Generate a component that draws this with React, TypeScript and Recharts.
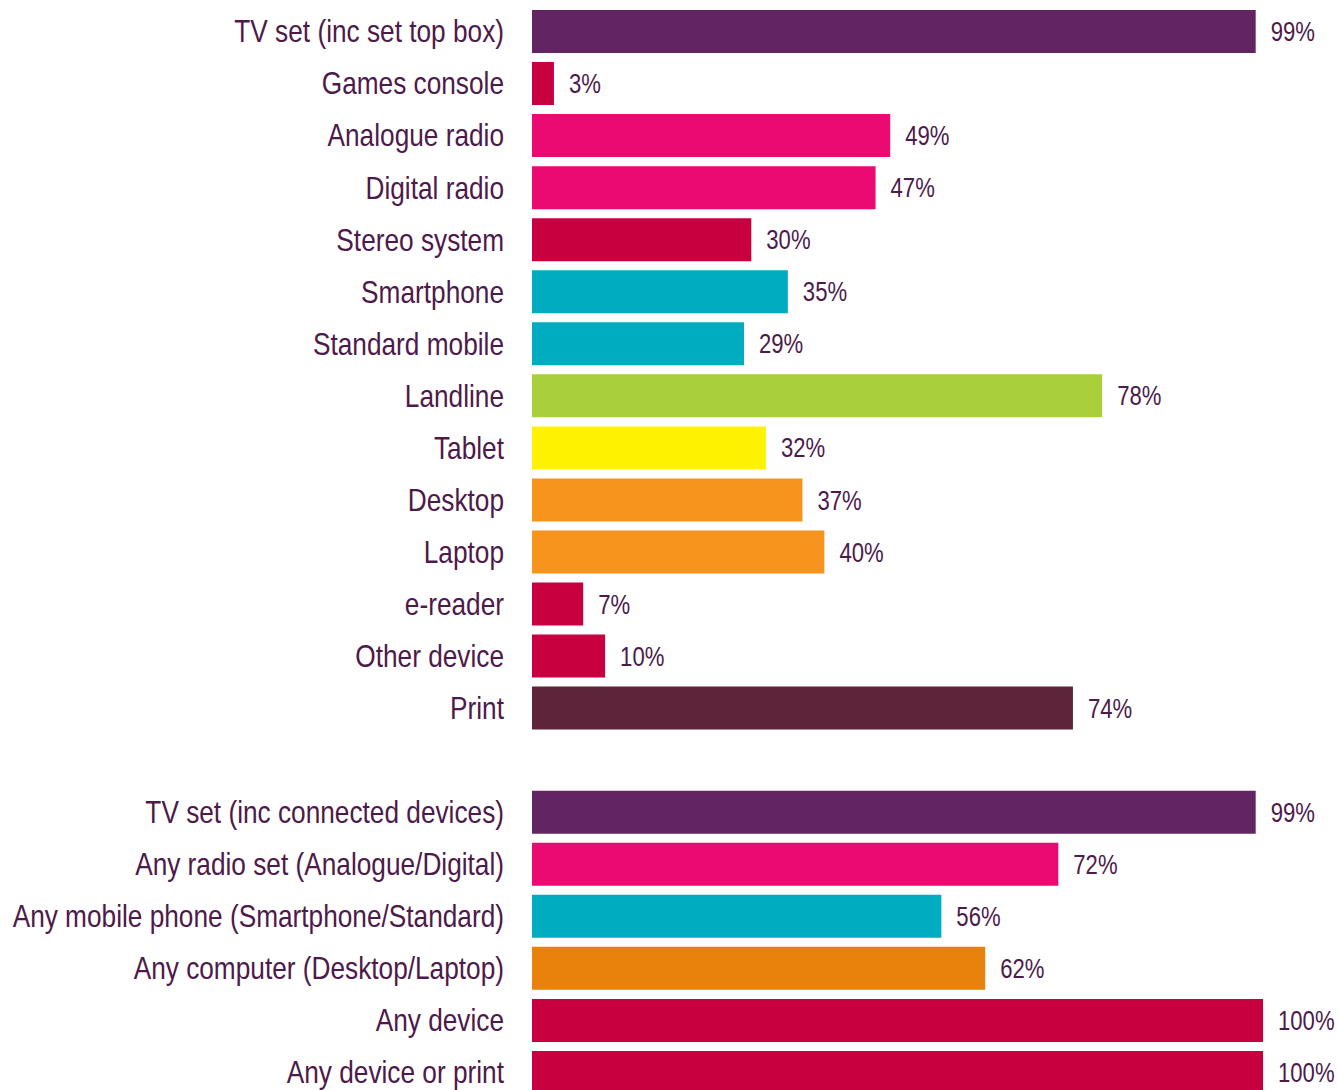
import { BarChart, Bar, XAxis, YAxis, LabelList, Cell } from 'recharts'

const categories = [
  'TV set (inc set top box)',
  'Games console',
  'Analogue radio',
  'Digital radio',
  'Stereo system',
  'Smartphone',
  'Standard mobile',
  'Landline',
  'Tablet',
  'Desktop',
  'Laptop',
  'e-reader',
  'Other device',
  'Print',
  '',
  'TV set (inc connected devices)',
  'Any radio set (Analogue/Digital)',
  'Any mobile phone (Smartphone/Standard)',
  'Any computer (Desktop/Laptop)',
  'Any device',
  'Any device or print',
]

const values: (number | null)[] = [
  99, 3, 49, 47, 30, 35, 29, 78, 32, 37, 40, 7, 10, 74,
  null,
  99, 72, 56, 62, 100, 100,
]

const colors = [
  '#632464', '#C8003F', '#EB0A72', '#EB0A72', '#C8003F', '#00ADC0', '#00ADC0',
  '#A9D03A', '#FFF200', '#F7941E', '#F7941E', '#C8003F', '#C8003F', '#5E2439',
  '#FFFFFF',
  '#632464', '#EB0A72', '#00ADC0', '#E8820C', '#C8003F', '#C8003F',
]

const textColor = '#4D1A4B'
const font = '"Liberation Sans", Arial, sans-serif'
// no narrow font installed, so squeeze the regular one horizontally
const squeeze = 0.82

const data = categories.map((name, i) => ({ name, value: values[i] }))

// eslint-disable-next-line @typescript-eslint/no-explicit-any
function CategoryTick({ x, y, payload }: any) {
  return (
    <g transform={`translate(${x},${y})`}>
      <text
        transform={`scale(${squeeze},1)`}
        textAnchor="end"
        dy="0.355em"
        fill={textColor}
        fontSize={32}
        fontFamily={font}
      >
        {payload.value}
      </text>
    </g>
  )
}

// eslint-disable-next-line @typescript-eslint/no-explicit-any
function ValueLabel({ x, y, width, height, value }: any) {
  if (value == null) return null
  const lx = Number(x) + Number(width) + 15
  const ly = Number(y) + Number(height) / 2
  return (
    <g transform={`translate(${lx},${ly})`}>
      <text
        transform={`scale(${squeeze},1)`}
        textAnchor="start"
        dy="0.355em"
        fill={textColor}
        fontSize={27}
        fontFamily={font}
      >
        {`${value}%`}
      </text>
    </g>
  )
}

export default function App() {
  return (
    <div style={{ position: 'absolute', left: 0, top: 0, width: 1338, height: 1090, overflow: 'hidden', background: '#fff' }}>
      <BarChart
        width={1338}
        height={1098}
        data={data}
        layout="vertical"
        margin={{ top: 5, right: 75, left: 0, bottom: 0 }}
      >
        <XAxis type="number" domain={[0, 100]} hide />
        <YAxis
          type="category"
          dataKey="name"
          width={532}
          interval={0}
          tickLine={false}
          axisLine={false}
          tickSize={0}
          tickMargin={28}
          tick={<CategoryTick />}
        />
        <Bar dataKey="value" barSize={43} isAnimationActive={false}>
          {data.map((_, i) => (
            <Cell key={i} fill={colors[i]} />
          ))}
          <LabelList dataKey="value" content={<ValueLabel />} />
        </Bar>
      </BarChart>
    </div>
  )
}
